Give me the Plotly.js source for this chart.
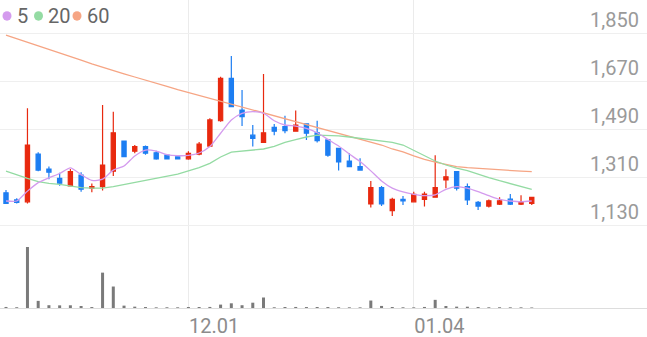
<!DOCTYPE html>
<html>
<head>
<meta charset="utf-8">
<script src="https://cdn.plot.ly/plotly-3.0.1.min.js"></script>
<style>
html,body{margin:0;padding:0;background:#fff;}
#chart{width:647px;height:337px;}
</style>
</head>
<body>
<div id="chart"></div>
<script>
const dates = ["2023-11-08","2023-11-09","2023-11-10","2023-11-13","2023-11-14","2023-11-15","2023-11-16","2023-11-17","2023-11-20","2023-11-21",
"2023-11-22","2023-11-23","2023-11-24","2023-11-27","2023-11-28","2023-11-29","2023-11-30","2023-12-01","2023-12-04","2023-12-05",
"2023-12-06","2023-12-07","2023-12-08","2023-12-11","2023-12-12","2023-12-13","2023-12-14","2023-12-15","2023-12-18","2023-12-19",
"2023-12-20","2023-12-21","2023-12-22","2023-12-26","2023-12-27","2023-12-28","2024-01-02","2024-01-03","2024-01-04","2024-01-05",
"2024-01-08","2024-01-09","2024-01-10","2024-01-11","2024-01-12","2024-01-15","2024-01-16","2024-01-17","2024-01-18","2024-01-19"];

const openP  = [1251,1224,1217,1396,1340,1305,1277,1317,1268,1274,1332,1445,1407,1424,1401,1392,1386,1378,1396,1426,1521,1680,1561,1467,1440,1496,1499,1482,1509,1476,1449,1417,1370,1349,1209,1270,1184,1226,1217,1226,1234,1299,1330,1274,1215,1201,1208,1227,1208,1211];
const highP  = [1261,1230,1568,1403,1349,1326,1340,1328,1286,1580,1555,1447,1430,1428,1408,1394,1387,1407,1441,1530,1686,1764,1636,1505,1696,1509,1540,1559,1511,1521,1451,1420,1399,1380,1295,1276,1232,1239,1255,1255,1392,1339,1330,1286,1220,1226,1234,1246,1242,1236];
const lowP   = [1209,1211,1211,1332,1302,1277,1274,1255,1253,1259,1314,1384,1399,1393,1375,1376,1376,1375,1392,1424,1517,1572,1501,1424,1439,1467,1474,1480,1449,1439,1386,1334,1347,1334,1196,1201,1164,1205,1215,1199,1233,1268,1259,1205,1186,1196,1205,1205,1205,1205];
const closeP = [1211,1215,1430,1336,1328,1287,1330,1264,1274,1355,1476,1386,1424,1399,1378,1378,1378,1399,1433,1524,1680,1574,1536,1455,1476,1482,1484,1505,1474,1446,1392,1367,1349,1336,1270,1209,1226,1220,1245,1246,1270,1311,1268,1224,1201,1221,1221,1208,1217,1234];

const ma5  = [1220,1220,1257,1289,1307,1323,1344,1319,1297,1302,1336,1351,1389,1411,1407,1394,1390,1391,1400,1424,1474,1524,1549,1555,1549,1521,1505,1501,1492,1476,1451,1426,1396,1368,1333,1295,1268,1254,1245,1240,1243,1264,1274,1268,1255,1240,1226,1220,1217,1220];
const ma20 = [1332,1318,1305,1293,1286,1282,1276,1270,1268,1268,1274,1282,1289,1296,1305,1314,1321,1333,1345,1361,1385,1403,1407,1411,1415,1425,1440,1450,1460,1467,1466,1464,1460,1455,1449,1445,1440,1430,1411,1390,1370,1355,1343,1334,1320,1308,1296,1285,1274,1264];
const ma60 = [1842,1829,1815,1802,1788,1775,1761,1748,1734,1721,1709,1697,1685,1674,1662,1650,1638,1627,1616,1605,1594,1583,1572,1562,1551,1540,1529,1518,1507,1496,1485,1475,1464,1453,1442,1430,1415,1404,1389,1376,1366,1357,1349,1345,1342,1339,1336,1334,1332,1330];

const volume = [52,38,3010,352,138,131,134,98,47,1745,1060,117,66,48,33,36,34,51,49,53,168,232,137,262,518,36,49,52,47,51,48,37,34,32,368,102,49,36,33,52,402,98,67,63,48,35,37,34,33,26];

const priceTicks = [1130,1310,1490,1670,1850];
const dateTickVals = ["2023-12-01","2024-01-04"];
const dateTickText = ["12.01","01.04"];

const maNames = ["5","20","60"];
const maColors = ["#d49bee","#94dba3","#f6a584"];

const RED = "#e8290f", BLUE = "#1d7ef2";

const traces = [
  {type:"scatter", mode:"lines", x:dates, y:ma60, line:{color:maColors[2], width:1.3}, hoverinfo:"skip"},
  {type:"scatter", mode:"lines", x:dates, y:ma20, line:{color:maColors[1], width:1.3}, hoverinfo:"skip"},
  {type:"scatter", mode:"lines", x:dates, y:ma5, line:{color:maColors[0], width:1.3, shape:"spline", smoothing:0.6}, hoverinfo:"skip"},
  {type:"candlestick", x:dates, open:openP, high:highP, low:lowP, close:closeP,
   increasing:{line:{color:RED, width:1.2}, fillcolor:RED},
   decreasing:{line:{color:BLUE, width:1.2}, fillcolor:BLUE},
   whiskerwidth:0},
  {type:"bar", x:dates, y:volume, yaxis:"y2", width:0.28, marker:{color:"#7a7a7a"}, hoverinfo:"skip"}
];

const H = 308; // plot area height in px
const legendX = [[2.5,11.5,15.5],[34,43,47],[72.5,81.5,86]];
const shapes = [], annotations = [];
maNames.forEach((n,i)=>{
  const [a,b,t] = legendX[i];
  shapes.push({type:"circle", xref:"paper", yref:"paper", x0:a/647, x1:b/647, y0:1-20.7/H, y1:1-11.2/H,
    fillcolor:maColors[i], line:{width:0}});
  annotations.push({xref:"paper", yref:"paper", x:(t-1)/647, y:1-16/H, xanchor:"left", yanchor:"middle",
    text:n, showarrow:false, font:{family:"Roboto", size:20, color:"#666666"}});
});

const layout = {
  width:647, height:337,
  margin:{l:0, r:0, t:0, b:29, pad:0},
  paper_bgcolor:"#fff", plot_bgcolor:"#fff",
  showlegend:false,
  boxgap:0.44,
  xaxis:{type:"category", range:[-0.559, 59.74], tickvals:dateTickVals, ticktext:dateTickText,
    showgrid:true, gridcolor:"#ebebeb", gridwidth:1, showline:true, linecolor:"#dddddd", linewidth:1,
    ticks:"", ticklabelposition:"outside right", zeroline:false, fixedrange:true,
    tickfont:{family:"Roboto", size:20, color:"#8c8c8c"},
    rangeslider:{visible:false}},
  yaxis:{domain:[0,1], range:[818.75, 1973.75], side:"right", tickvals:priceTicks, tickformat:",d",
    ticklabelposition:"inside", ticklabelshift:-13, ticklabelstandoff:5,
    showgrid:true, gridcolor:"#efefef", gridwidth:1, zeroline:false, showline:false, ticks:"",
    tickfont:{family:"Roboto", size:20, color:"#9a9a9a"}, fixedrange:true},
  yaxis2:{overlaying:"y", range:[0, 15200], visible:false, fixedrange:true},
  shapes:shapes, annotations:annotations
};

Plotly.newPlot("chart", traces, layout, {displayModeBar:false, staticPlot:true});
</script>
</body>
</html>
